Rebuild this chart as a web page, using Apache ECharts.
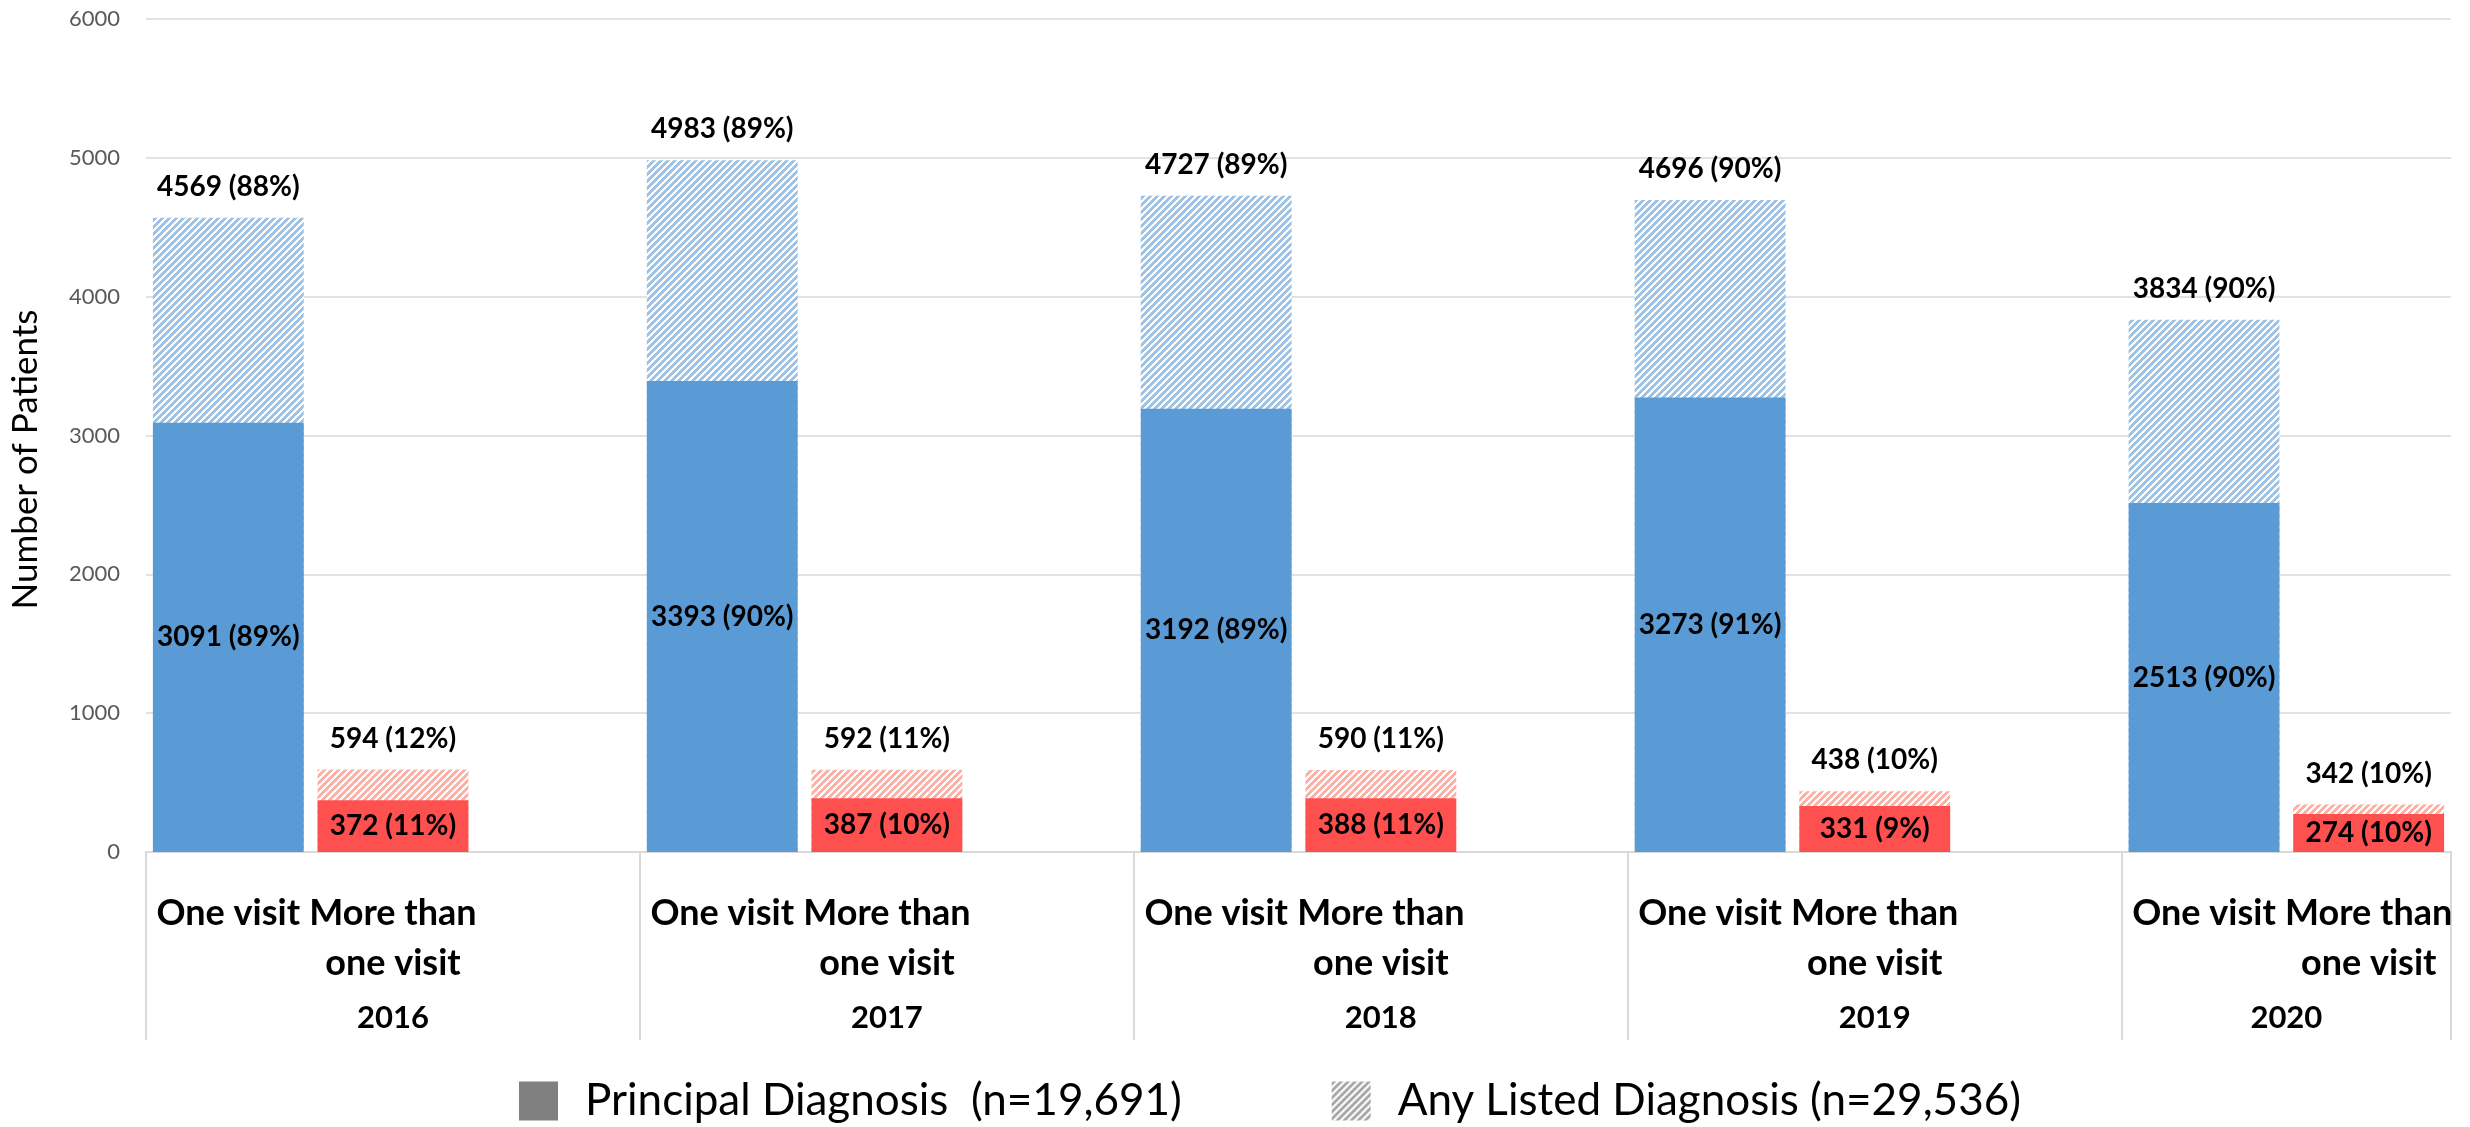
<!DOCTYPE html>
<html>
<head>
<meta charset="utf-8">
<script src="https://cdn.jsdelivr.net/npm/echarts@6/dist/echarts.min.js"></script>
<style>
  html, body { margin: 0; padding: 0; background: #ffffff; }
  #chart { width: 2470px; height: 1127px; }
</style>
</head>
<body>
<div id="chart"></div>
<script>
// ---- data ----
const years = ['2016', '2017', '2018', '2019', '2020'];
const visitLabels = ['One visit', 'More than\none visit'];

const principalOneVisit    = [3091, 3393, 3192, 3273, 2513];
const principalOneVisitPct = [89, 90, 89, 91, 90];
const principalMultiVisit    = [372, 387, 388, 331, 274];
const principalMultiVisitPct = [11, 10, 11, 9, 10];

const anyOneVisit    = [4569, 4983, 4727, 4696, 3834];
const anyOneVisitPct = [88, 89, 89, 90, 90];
const anyMultiVisit    = [594, 592, 590, 438, 342];
const anyMultiVisitPct = [12, 11, 11, 10, 10];

const yMin = 0, yMax = 6000, yStep = 1000;
const seriesNames = ['Principal Diagnosis  (n=19,691)', 'Any Listed Diagnosis (n=29,536)'];

// ---- colours ----
const BLUE = '#5B9BD5';
const RED = '#FF5050';
const BLUE_STRIPE = '#9DC3E6';
const RED_STRIPE = '#FFB0A4';
const GREY = '#808080';
const GREY_STRIPE = '#A6A6A6';
const FONT = 'Lato, "Open Sans", "DejaVu Sans", sans-serif';

// upward-diagonal hatch tile, drawn pixel by pixel
function hatch(color, period, thick) {
  const c = document.createElement('canvas');
  c.width = period; c.height = period;
  const ctx = c.getContext('2d');
  ctx.fillStyle = '#ffffff';
  ctx.fillRect(0, 0, period, period);
  ctx.fillStyle = color;
  for (let y = 0; y < period; y++) {
    for (let x = 0; x < period; x++) {
      if ((x + y) % period < thick) ctx.fillRect(x, y, 1, 1);
    }
  }
  return { image: c, repeat: 'repeat' };
}
const blueHatch = hatch(BLUE_STRIPE, 7, 4);
const redHatch = hatch(RED_STRIPE, 7, 4);
const greyHatch = hatch(GREY_STRIPE, 7, 4);

// ---- category slots: two visit bars per year, blank spacer between years ----
const slots = [];
const groupStarts = new Set();
const yearAt = {};
years.forEach((y, i) => {
  const start = slots.length;
  groupStarts.add(start);
  slots.push({ key: y + '-one', label: visitLabels[0], year: i, kind: 'one' });
  slots.push({ key: y + '-multi', label: visitLabels[1], year: i, kind: 'multi' });
  if (i < years.length - 1) slots.push({ key: y + '-gap', label: '', year: i, kind: 'gap' });
  const span = slots.length - start;
  yearAt[(start + span / 2).toFixed(1)] = y;
});
const slotLabel = {};
slots.forEach(s => { slotLabel[s.key] = s.label; });

const anyData = slots.map(s => {
  if (s.kind === 'gap') return '-';
  const one = s.kind === 'one';
  return {
    value: one ? anyOneVisit[s.year] : anyMultiVisit[s.year],
    pct: one ? anyOneVisitPct[s.year] : anyMultiVisitPct[s.year],
    itemStyle: { color: one ? blueHatch : redHatch }
  };
});
const principalData = slots.map(s => {
  if (s.kind === 'gap') return '-';
  const one = s.kind === 'one';
  return {
    value: one ? principalOneVisit[s.year] : principalMultiVisit[s.year],
    pct: one ? principalOneVisitPct[s.year] : principalMultiVisitPct[s.year],
    itemStyle: { color: one ? BLUE : RED }
  };
});

const labelFmt = p => p.value + ' (' + p.data.pct + '%)';
const dataLabel = {
  show: true,
  formatter: labelFmt,
  fontFamily: FONT,
  fontWeight: 'bold',
  fontSize: 28,
  color: '#000000'
};

const chart = echarts.init(document.getElementById('chart'), null, { renderer: 'canvas' });
chart.setOption({
  backgroundColor: '#ffffff',
  animation: false,
  grid: { left: 143, right: 19, top: 19, bottom: 275, containLabel: false },
  legend: {
    left: 519,
    top: 1078,
    padding: 0,
    itemWidth: 39,
    itemHeight: 39,
    itemGap: 150,
    icon: 'rect',
    textStyle: { fontFamily: FONT, fontSize: 44, lineHeight: 46, color: '#000000', padding: [0, 0, 0, 22] },
    data: [
      { name: seriesNames[0], itemStyle: { color: GREY } },
      { name: seriesNames[1], itemStyle: { color: greyHatch } }
    ]
  },
  xAxis: [
    {
      type: 'category',
      data: slots.map(s => s.key),
      position: 'bottom',
      axisLine: { show: true, lineStyle: { color: '#D9D9D9', width: 2 } },
      axisTick: {
        show: true,
        interval: (index) => groupStarts.has(index),
        length: 188,
        lineStyle: { color: '#D9D9D9', width: 2 }
      },
      axisLabel: {
        interval: 0,
        formatter: v => slotLabel[v],
        fontFamily: FONT,
        fontWeight: 'bold',
        fontSize: 36,
        lineHeight: 50,
        color: '#000000',
        margin: 36
      },
      splitLine: { show: false }
    },
    {
      type: 'value',
      min: 0,
      max: slots.length,
      interval: 0.5,
      position: 'bottom',
      axisLine: { show: false },
      axisTick: { show: false },
      splitLine: { show: false },
      axisLabel: {
        formatter: v => yearAt[Number(v).toFixed(1)] || '',
        fontFamily: FONT,
        fontWeight: 'bold',
        fontSize: 31,
        lineHeight: 31,
        color: '#000000',
        margin: 150,
        showMinLabel: true,
        showMaxLabel: true
      }
    }
  ],
  yAxis: {
    type: 'value',
    min: yMin,
    max: yMax,
    interval: yStep,
    axisLine: { show: false },
    axisTick: { show: false },
    splitLine: { show: true, lineStyle: { color: '#D9D9D9', width: 1.5 } },
    axisLabel: { formatter: v => String(v), fontFamily: FONT, fontSize: 22, color: '#595959', margin: 26 },
    name: 'Number of Patients',
    nameLocation: 'middle',
    nameGap: 103,
    nameTextStyle: { fontFamily: FONT, fontSize: 35, color: '#000000', padding: [0, 48, 0, 0] }
  },
  series: [
    {
      name: seriesNames[1],
      type: 'bar',
      xAxisIndex: 0,
      barWidth: '91.6%',
      barGap: '-100%',
      itemStyle: { color: greyHatch },
      label: Object.assign({ position: 'top', distance: 17 }, dataLabel),
      data: anyData
    },
    {
      name: seriesNames[0],
      type: 'bar',
      xAxisIndex: 0,
      barWidth: '91.6%',
      barGap: '-100%',
      itemStyle: { color: GREY },
      label: Object.assign({ position: 'inside' }, dataLabel),
      data: principalData
    }
  ]
});
</script>
</body>
</html>
